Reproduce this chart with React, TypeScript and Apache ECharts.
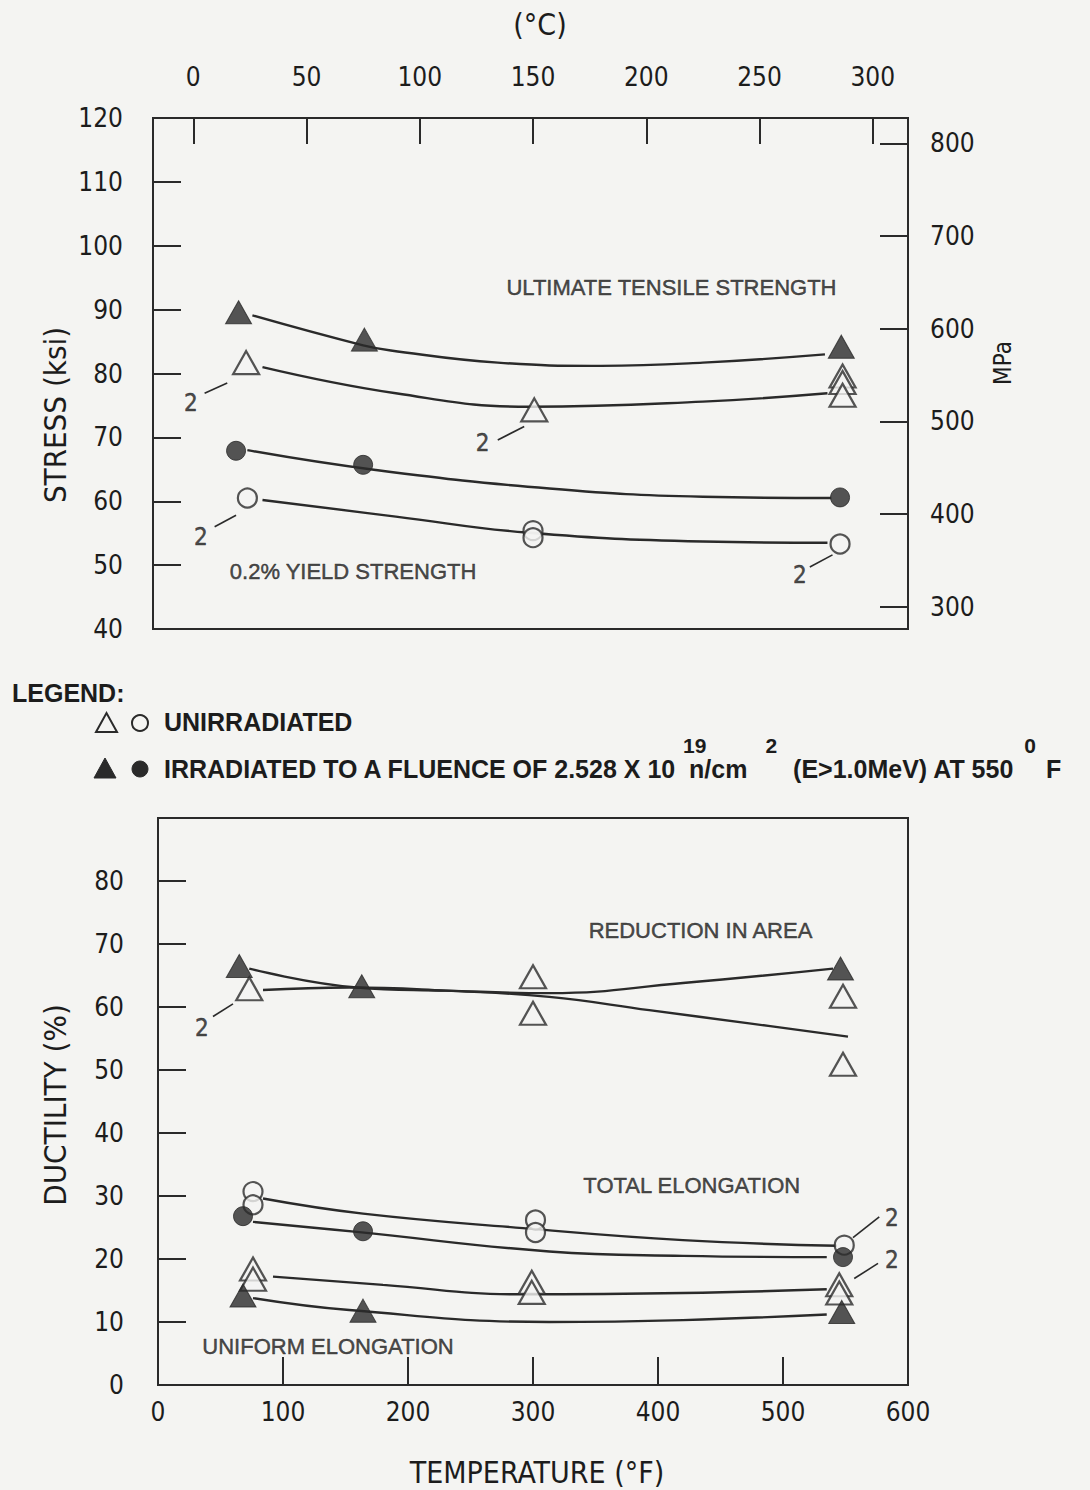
import React, { useEffect, useRef } from 'react';
import * as echarts from 'echarts';

const FONT_NARROW = "'Liberation Sans Narrow', 'Arial Narrow', 'DejaVu Sans Condensed', 'Liberation Sans', sans-serif";
const FONT = "'Liberation Sans', Arial, sans-serif";
const INK = '#2a2a2a';
const TEXT_INK = '#1c1c1c';
const BG = '#f4f4f2';
const KSI_TO_MPA = 6.894757;

// ---- axis ticks / ranges ----
const celsiusTicks = [0, 50, 100, 150, 200, 250, 300];
const mpaRange = [300, 800];
const tempFRange = [0, 600];
const ksiRange = [40, 120];
const ductilityRange = [0, 90];

// ---- top panel: stress (ksi) vs temperature (°F) ----
const utsIrradiated = [[68, 89.6], [168, 85.3], [547, 84.2]];
const utsUnirradiated = [[74, 81.7], [303, 74.3], [548, 79.6], [548, 78.6], [548, 76.6]];
const ysIrradiated = [[66, 67.9], [167, 65.7], [546, 60.6]];
const ysUnirradiated = [[75, 60.5], [302, 55.4], [302, 54.3], [546, 53.3]];

const utsIrradiatedCurve = [[79, 89.1], [167, 84.4], [189, 83.6], [274, 81.7], [356, 81.2], [437, 81.7], [534, 83.0]];
const utsUnirradiatedCurve = [[87, 81.0], [193, 76.9], [299, 74.8], [437, 75.6], [536, 76.9]];
const ysIrradiatedCurve = [[75, 68.0], [177, 64.9], [315, 62.0], [437, 60.7], [539, 60.5]];
const ysUnirradiatedCurve = [[87, 60.2], [193, 57.6], [297, 55.1], [437, 53.7], [536, 53.5]];

const stressNoteLabels = [[30, 75.4], [262, 69.1], [38, 54.4], [514, 48.5]];
const stressNoteLeaders = [
  [[41, 76.9], [59, 78.5]],
  [[274, 69.6], [295, 71.7]],
  [[49, 56.0], [66, 57.8]],
  [[522, 49.7], [540, 51.6]],
];
const stressTitles = [
  { name: 'ULTIMATE TENSILE STRENGTH', at: [412, 93.5] },
  { name: '0.2% YIELD STRENGTH', at: [159, 49.0] },
];

// ---- bottom panel: ductility (%) vs temperature (°F) ----
const raIrradiated = [[65, 66.5], [163, 63.3], [546, 66.1]];
const raUnirradiated = [[73, 62.9], [300, 64.8], [300, 59.0], [548, 61.7], [548, 50.9]];
const teUnirradiated = [[76, 30.7], [76, 28.6], [302, 26.2], [302, 24.2], [549, 22.2]];
const teIrradiated = [[68, 26.8], [164, 24.4], [548, 20.3]];
const ueUnirradiated = [[76, 18.4], [76, 16.8], [299, 16.3], [299, 14.7], [545, 15.9], [545, 14.6]];
const ueIrradiated = [[68, 14.2], [164, 11.8], [547, 11.6]];

const raIrradiatedCurve = [[73, 66.1], [159, 63.1], [230, 62.6], [313, 62.2], [420, 63.8], [540, 66.1]];
const raUnirradiatedCurve = [[84, 62.7], [153, 63.1], [230, 62.6], [313, 61.6], [393, 59.5], [473, 57.4], [552, 55.3]];
const teUnirradiatedCurve = [[84, 29.6], [164, 27.2], [292, 24.9], [420, 23.0], [543, 22.1]];
const teIrradiatedCurve = [[76, 25.9], [159, 24.3], [313, 21.2], [420, 20.5], [535, 20.3]];
const ueUnirradiatedCurve = [[92, 17.2], [180, 15.9], [289, 14.4], [420, 14.6], [535, 15.2]];
const ueIrradiatedCurve = [[76, 13.8], [153, 11.9], [313, 10.0], [420, 10.3], [535, 11.2]];

const ductNoteLabels = [[35, 56.6], [587, 26.5], [587, 19.8]];
const ductNoteLeaders = [
  [[44, 58.5], [60, 60.5]],
  [[577, 26.7], [556, 23.4]],
  [[576, 19.3], [557, 16.9]],
];
const ductTitles = [
  { name: 'REDUCTION IN AREA', at: [434, 72.2] },
  { name: 'TOTAL ELONGATION', at: [427, 31.7] },
  { name: 'UNIFORM ELONGATION', at: [136, 6.1] },
];

// ---- legend texts ----
const legendHeader = 'LEGEND:';
const legendUnirradiated = 'UNIRRADIATED';
const legendIrradiatedParts = ['IRRADIATED TO A FLUENCE OF 2.528 X 10', '19', 'n/cm', '2', '(E>1.0MeV) AT 550', '0', 'F'];

function measure(text: string, font: string): number {
  const c = document.createElement('canvas').getContext('2d');
  if (!c) return text.length * 14;
  c.font = font;
  return c.measureText(text).width;
}

const labelStyle = { fontFamily: FONT_NARROW, fontSize: 26, color: TEXT_INK };
const tickLine = { color: INK, width: 2 };
const noLine = { show: false, onZero: false };

// top stress grid geometry (ksi axis); the MPa grid is derived from it
const TOP = { left: 153, top: 118, width: 755, height: 511 };
const pxPerKsi = TOP.height / (ksiRange[1] - ksiRange[0]);
const mpaTopPx = TOP.top + (ksiRange[1] - mpaRange[1] / KSI_TO_MPA) * pxPerKsi;
const mpaBottomPx = TOP.top + (ksiRange[1] - mpaRange[0] / KSI_TO_MPA) * pxPerKsi;

function curve(data: number[][], xi: number, yi: number) {
  return {
    type: 'line', data, xAxisIndex: xi, yAxisIndex: yi, smooth: 0.45, symbol: 'none',
    lineStyle: { color: INK, width: 2.4 }, silent: true, z: 2,
  };
}

function markers(data: number[][], symbol: string, filled: boolean, xi: number, yi: number) {
  const size = symbol === 'triangle' ? [26, 23] : 19;
  return {
    type: 'scatter', data, xAxisIndex: xi, yAxisIndex: yi, symbol, symbolSize: size,
    itemStyle: filled ? { color: INK, borderColor: INK, borderWidth: 1 } : { color: BG, borderColor: INK, borderWidth: 2.2 },
    silent: true, z: 4,
  };
}

function leader(seg: number[][], xi: number, yi: number) {
  return {
    type: 'line', data: seg, xAxisIndex: xi, yAxisIndex: yi, symbol: 'none',
    lineStyle: { color: INK, width: 1.6 }, silent: true, z: 3,
  };
}

function textSeries(items: { name: string; at: number[] }[], xi: number, yi: number, size: number, family: string) {
  return {
    type: 'scatter', xAxisIndex: xi, yAxisIndex: yi, symbolSize: 2,
    itemStyle: { color: 'rgba(0,0,0,0)' }, silent: true, z: 5,
    data: items.map((it) => ({ value: it.at, name: it.name })),
    label: {
      show: true, position: 'inside', formatter: (p: any) => p.name, fontFamily: family, fontSize: size,
      color: TEXT_INK, textBorderColor: TEXT_INK, textBorderWidth: 0.5,
    },
  };
}

function buildLegend(): any[] {
  const size = 25;
  const font = `bold ${size}px 'Liberation Sans', Arial, sans-serif`;
  const supSize = 21;
  const supFont = `bold ${supSize}px 'Liberation Sans', Arial, sans-serif`;
  const els: any[] = [];
  const txt = (text: string, x: number, y: number, fs: number) => ({
    type: 'text', x, y, silent: true,
    style: { text, fontSize: fs, fontFamily: FONT, fontWeight: 'bold', fill: TEXT_INK, align: 'left', verticalAlign: 'middle' },
  });
  els.push(txt(legendHeader, 12, 693, size));
  els.push({ type: 'polygon', silent: true, shape: { points: [[96, 732], [117, 732], [106.5, 713]] }, style: { fill: 'none', stroke: INK, lineWidth: 2 } });
  els.push({ type: 'circle', silent: true, shape: { cx: 140, cy: 723, r: 8 }, style: { fill: 'none', stroke: INK, lineWidth: 2 } });
  els.push({ type: 'polygon', silent: true, shape: { points: [[94, 778], [116, 778], [105, 758]] }, style: { fill: INK, stroke: INK, lineWidth: 1 } });
  els.push({ type: 'circle', silent: true, shape: { cx: 140, cy: 769, r: 8 }, style: { fill: INK, stroke: INK, lineWidth: 1 } });
  els.push(txt(legendUnirradiated, 164, 722, size));

  const [s1, p1, s2, p2, s3, p3, s4] = legendIrradiatedParts;
  const y = 769;
  const ys = 745;
  let x = 164;
  els.push(txt(s1, x, y, size));
  x += measure(s1, font);
  els.push(txt(p1, x + 6, ys, supSize));
  x += 12;
  els.push(txt(s2, x, y, size));
  x += measure(s2, font) + 18;
  els.push(txt(p2, x, ys, supSize));
  x += measure(p2, supFont) + 16;
  els.push(txt(s3, x, y, size));
  x += measure(s3, font) + 10;
  els.push(txt(p3, x, ys, supSize));
  x += measure(p3, supFont) + 10;
  els.push(txt(s4, x, y, size));
  return els;
}

function buildOption(): any {
  const titleText = (text: string, x: number, y: number, size: number, rotation = 0) => ({
    type: 'text', x, y, rotation, silent: true,
    style: { text, fontSize: size, fontFamily: FONT_NARROW, fill: TEXT_INK, align: 'center', verticalAlign: 'middle' },
  });

  return {
    animation: false,
    backgroundColor: BG,
    grid: [
      { ...TOP, show: true, borderColor: INK, borderWidth: 2, backgroundColor: 'transparent' },
      { left: 158, top: 818, width: 750, height: 567, show: true, borderColor: INK, borderWidth: 2, backgroundColor: 'transparent' },
      { left: TOP.left, top: mpaTopPx, width: TOP.width, height: mpaBottomPx - mpaTopPx, show: false },
    ],
    xAxis: [
      { gridIndex: 0, type: 'value', min: tempFRange[0], max: tempFRange[1], show: false, axisLine: noLine },
      {
        gridIndex: 0, type: 'value', position: 'top',
        min: (tempFRange[0] - 32) / 1.8, max: (tempFRange[1] - 32) / 1.8,
        axisLine: noLine, splitLine: { show: false },
        axisTick: { show: true, inside: true, length: 26, customValues: celsiusTicks, lineStyle: tickLine },
        axisLabel: { ...labelStyle, margin: 28, customValues: celsiusTicks },
      },
      {
        gridIndex: 1, type: 'value', min: tempFRange[0], max: tempFRange[1], interval: 100,
        axisLine: noLine, splitLine: { show: false },
        axisTick: { show: true, inside: true, length: 28, lineStyle: tickLine },
        axisLabel: { ...labelStyle, margin: 14 },
      },
      { gridIndex: 2, type: 'value', min: tempFRange[0], max: tempFRange[1], show: false, axisLine: noLine },
    ],
    yAxis: [
      {
        gridIndex: 0, type: 'value', position: 'left', min: ksiRange[0], max: ksiRange[1], interval: 10,
        axisLine: noLine, splitLine: { show: false },
        axisTick: { show: true, inside: true, length: 28, lineStyle: tickLine },
        axisLabel: { ...labelStyle, margin: 30 },
      },
      {
        gridIndex: 1, type: 'value', position: 'left', min: ductilityRange[0], max: ductilityRange[1], interval: 10,
        axisLine: noLine, splitLine: { show: false },
        axisTick: { show: true, inside: true, length: 28, lineStyle: tickLine },
        axisLabel: { ...labelStyle, margin: 34, formatter: (v: number) => (v >= 90 ? '' : String(v)) },
      },
      {
        gridIndex: 2, type: 'value', position: 'right', min: mpaRange[0], max: mpaRange[1], interval: 100,
        axisLine: noLine, splitLine: { show: false },
        axisTick: { show: true, inside: true, length: 28, lineStyle: tickLine },
        axisLabel: { ...labelStyle, margin: 22 },
      },
    ],
    series: [
      curve(utsIrradiatedCurve, 0, 0),
      curve(utsUnirradiatedCurve, 0, 0),
      curve(ysIrradiatedCurve, 0, 0),
      curve(ysUnirradiatedCurve, 0, 0),
      ...stressNoteLeaders.map((s) => leader(s, 0, 0)),
      markers(utsIrradiated, 'triangle', true, 0, 0),
      markers(utsUnirradiated, 'triangle', false, 0, 0),
      markers(ysIrradiated, 'circle', true, 0, 0),
      markers(ysUnirradiated, 'circle', false, 0, 0),
      textSeries(stressNoteLabels.map((at) => ({ name: '2', at })), 0, 0, 24, FONT_NARROW),
      textSeries(stressTitles, 0, 0, 22, FONT),
      curve(raIrradiatedCurve, 2, 1),
      curve(raUnirradiatedCurve, 2, 1),
      curve(teUnirradiatedCurve, 2, 1),
      curve(teIrradiatedCurve, 2, 1),
      curve(ueUnirradiatedCurve, 2, 1),
      curve(ueIrradiatedCurve, 2, 1),
      ...ductNoteLeaders.map((s) => leader(s, 2, 1)),
      markers(raIrradiated, 'triangle', true, 2, 1),
      markers(raUnirradiated, 'triangle', false, 2, 1),
      markers(teUnirradiated, 'circle', false, 2, 1),
      markers(teIrradiated, 'circle', true, 2, 1),
      markers(ueUnirradiated, 'triangle', false, 2, 1),
      markers(ueIrradiated, 'triangle', true, 2, 1),
      textSeries(ductNoteLabels.map((at) => ({ name: '2', at })), 2, 1, 24, FONT_NARROW),
      textSeries(ductTitles, 2, 1, 22, FONT),
    ],
    graphic: [
      titleText('(°C)', 540, 24, 30),
      titleText('STRESS (ksi)', 55, 415, 31, Math.PI / 2),
      titleText('MPa', 1003, 363, 24, Math.PI / 2),
      titleText('DUCTILITY (%)', 55, 1105, 31, Math.PI / 2),
      titleText('TEMPERATURE (°F)', 537, 1472, 30),
      ...buildLegend(),
    ],
  };
}

export default function App() {
  const ref = useRef<HTMLDivElement>(null);
  useEffect(() => {
    if (!ref.current) return;
    const chart = echarts.init(ref.current, null, { renderer: 'svg' });
    chart.setOption(buildOption());
    return () => chart.dispose();
  }, []);
  return <div ref={ref} style={{ position: 'absolute', left: 0, top: 0, width: 1090, height: 1490 }} />;
}
